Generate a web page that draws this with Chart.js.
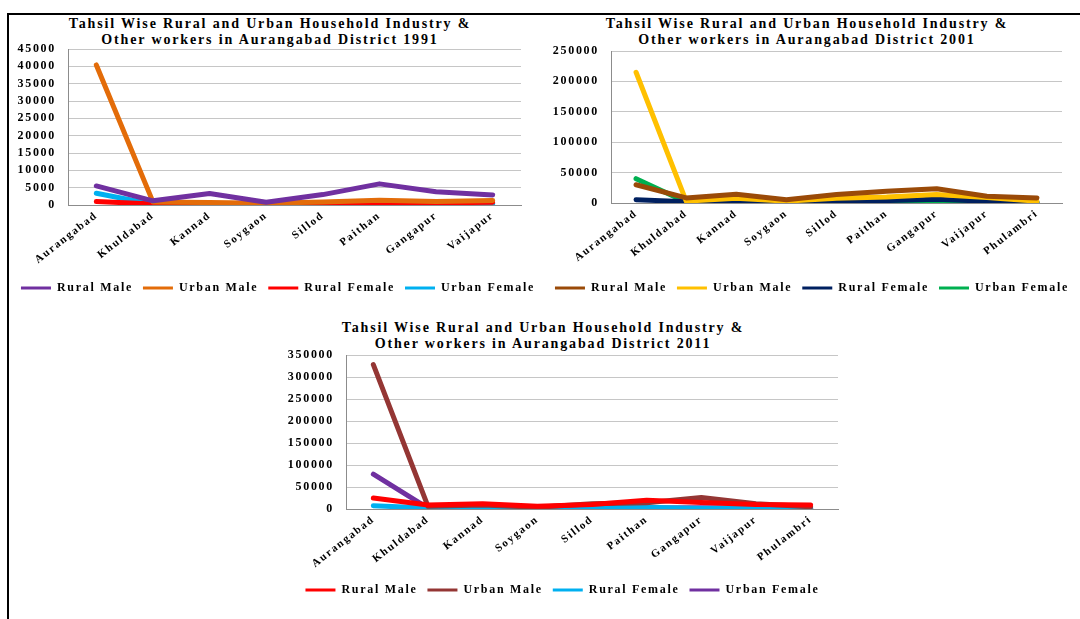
<!DOCTYPE html>
<html>
<head>
<meta charset="utf-8">
<script src="https://cdn.jsdelivr.net/npm/chart.js@4.4.1/dist/chart.umd.min.js"></script>
<style>
html, body { margin: 0; padding: 0; background: #fff; width: 1080px; height: 619px; overflow: hidden; position: relative; }
.frame { position: absolute; left: 7px; top: 13px; width: 1100px; height: 640px; border-top: 2px solid #000; border-left: 2px solid #000; }
.title { position: absolute; width: 500px; font: bold 14px 'Liberation Serif', 'Times New Roman', serif; letter-spacing: 1.85px; text-align: center; line-height: 16px; white-space: nowrap; color: #000; }
canvas { position: absolute; }
</style>
</head>
<body>
<div class="frame"></div>

<div class="title" style="left:20px;top:16px">Tahsil Wise Rural and Urban Household Industry &amp;<br>Other workers in Aurangabad District 1991</div>
<div class="title" style="left:557px;top:16px">Tahsil Wise Rural and Urban Household Industry &amp;<br>Other workers in Aurangabad District 2001</div>
<div class="title" style="left:293px;top:320px">Tahsil Wise Rural and Urban Household Industry &amp;<br>Other workers in Aurangabad District 2011</div>

<canvas id="chart1991" width="540" height="290" style="left:8px;top:14px"></canvas>
<canvas id="chart2001" width="548" height="290" style="left:538px;top:14px"></canvas>
<canvas id="chart2011" width="555" height="286" style="left:285px;top:320px"></canvas>

<script>
// tahsils
const tahsils1991 = ['Aurangabad', 'Khuldabad', 'Kannad', 'Soygaon', 'Sillod', 'Paithan', 'Gangapur', 'Vaijapur'];
const tahsils2001 = ['Aurangabad', 'Khuldabad', 'Kannad', 'Soygaon', 'Sillod', 'Paithan', 'Gangapur', 'Vaijapur', 'Phulambri'];
const tahsils2011 = ['Aurangabad', 'Khuldabad', 'Kannad', 'Soygaon', 'Sillod', 'Paithan', 'Gangapur', 'Vaijapur', 'Phulambri'];
const seriesNames = ['Rural Male', 'Urban Male', 'Rural Female', 'Urban Female'];

// 1991
const ruralMale1991 = [5500, 1200, 3300, 800, 3000, 6100, 3800, 2900];
const urbanMale1991 = [40400, 900, 700, 500, 900, 1400, 1000, 1300];
const ruralFemale1991 = [1000, 300, 400, 300, 500, 700, 600, 800];
const urbanFemale1991 = [3400, 200, 200, 200, 300, 400, 300, 400];
const yTicks1991 = [0, 45000, 5000];

// 2001
const ruralMale2001 = [30000, 8300, 14300, 5500, 13800, 19400, 23300, 11000, 8300];
const urbanMale2001 = [215000, 3000, 8000, 3000, 8000, 10000, 14000, 9000, 3000];
const ruralFemale2001 = [5500, 2000, 2000, 2000, 3000, 4000, 6000, 3000, 2000];
const urbanFemale2001 = [40000, 1500, 1500, 1500, 1500, 1500, 1500, 1500, 1000];
const yTicks2001 = [0, 250000, 50000];

// 2011
const ruralMale2011 = [25000, 9000, 12000, 6000, 10000, 20000, 15000, 10000, 9000];
const urbanMale2011 = [328000, 6000, 9000, 4000, 12000, 14000, 26000, 12000, 5000];
const ruralFemale2011 = [7500, 2000, 3000, 2000, 3000, 4000, 1000, 3000, 2000];
const urbanFemale2011 = [79000, 2000, 2000, 1500, 2000, 2500, 3000, 2500, 1500];
const yTicks2011 = [0, 350000, 50000];

Chart.defaults.font.family = "'Liberation Serif', 'Times New Roman', serif";
Chart.defaults.font.weight = 'bold';
Chart.defaults.color = '#000';

// stretched text like the original picture
const spacing = {
    id: 'spacing',
    beforeLayout(chart) { chart.ctx.letterSpacing = '1.7px'; },
    beforeDraw(chart) { chart.ctx.letterSpacing = '1.7px'; }
};

function makeChart(id, labels, values, colors, ticks, box) {
    const datasets = values.map((data, i) => ({
        label: seriesNames[i],
        data: data,
        borderColor: colors[i],
        backgroundColor: colors[i],
        borderWidth: 5,
        pointRadius: 0,
        tension: 0,
        borderJoinStyle: 'round',
        borderCapStyle: 'round'
    }));
    return new Chart(document.getElementById(id), {
        type: 'line',
        data: { labels: labels, datasets: datasets },
        plugins: [spacing],
        options: {
            responsive: false,
            animation: false,
            layout: { padding: { top: box.top, right: 0, left: 0, bottom: 0 } },
            plugins: {
                tooltip: { enabled: false },
                legend: {
                    position: 'bottom',
                    labels: {
                        boxWidth: 30,
                        boxHeight: 3,
                        padding: 10,
                        font: { size: 12, weight: 'bold' },
                        color: '#000',
                        generateLabels: (c) => c.data.datasets.map((ds, i) => ({
                            text: ds.label,
                            fillStyle: ds.borderColor,
                            strokeStyle: ds.borderColor,
                            lineWidth: 0,
                            hidden: false,
                            datasetIndex: i,
                            fontColor: '#000'
                        }))
                    }
                }
            },
            scales: {
                x: {
                    offset: true,
                    grid: { display: false, drawTicks: false },
                    border: { display: true, color: '#8c8c8c', width: 1 },
                    ticks: { autoSkip: false, maxRotation: 38, minRotation: 38, padding: 4, font: { size: 11, weight: 'bold' }, color: '#000' },
                    afterFit: (s) => { s.height = box.xHeight; }
                },
                y: {
                    min: ticks[0],
                    max: ticks[1],
                    ticks: { stepSize: ticks[2], autoSkip: false, padding: 12, font: { size: 12, weight: 'bold' }, color: '#000', callback: (v) => String(v) },
                    grid: { color: '#c6c6c6', drawTicks: false },
                    border: { display: true, color: '#8c8c8c', width: 1 },
                    afterFit: (s) => { s.width = box.yWidth; }
                },
                // empty space at the right of the plot
                yRight: {
                    position: 'right',
                    display: true,
                    grid: { display: false, drawTicks: false },
                    border: { display: false },
                    ticks: { display: false },
                    afterFit: (s) => { s.width = box.right; }
                }
            }
        }
    });
}

makeChart('chart1991', tahsils1991,
    [ruralMale1991, urbanMale1991, ruralFemale1991, urbanFemale1991],
    ['#7030A0', '#E36C09', '#FF0000', '#00B0F0'],
    yTicks1991, { top: 35, right: 27, yWidth: 60, xHeight: 67 });

makeChart('chart2001', tahsils2001,
    [ruralMale2001, urbanMale2001, ruralFemale2001, urbanFemale2001],
    ['#9A4A08', '#FFC000', '#002060', '#00B050'],
    yTicks2001, { top: 37, right: 24, yWidth: 73, xHeight: 69 });

makeChart('chart2011', tahsils2011,
    [ruralMale2011, urbanMale2011, ruralFemale2011, urbanFemale2011],
    ['#FF0000', '#943634', '#00B0F0', '#7030A0'],
    yTicks2011, { top: 35, right: 2, yWidth: 61, xHeight: 65 });
</script>
</body>
</html>
